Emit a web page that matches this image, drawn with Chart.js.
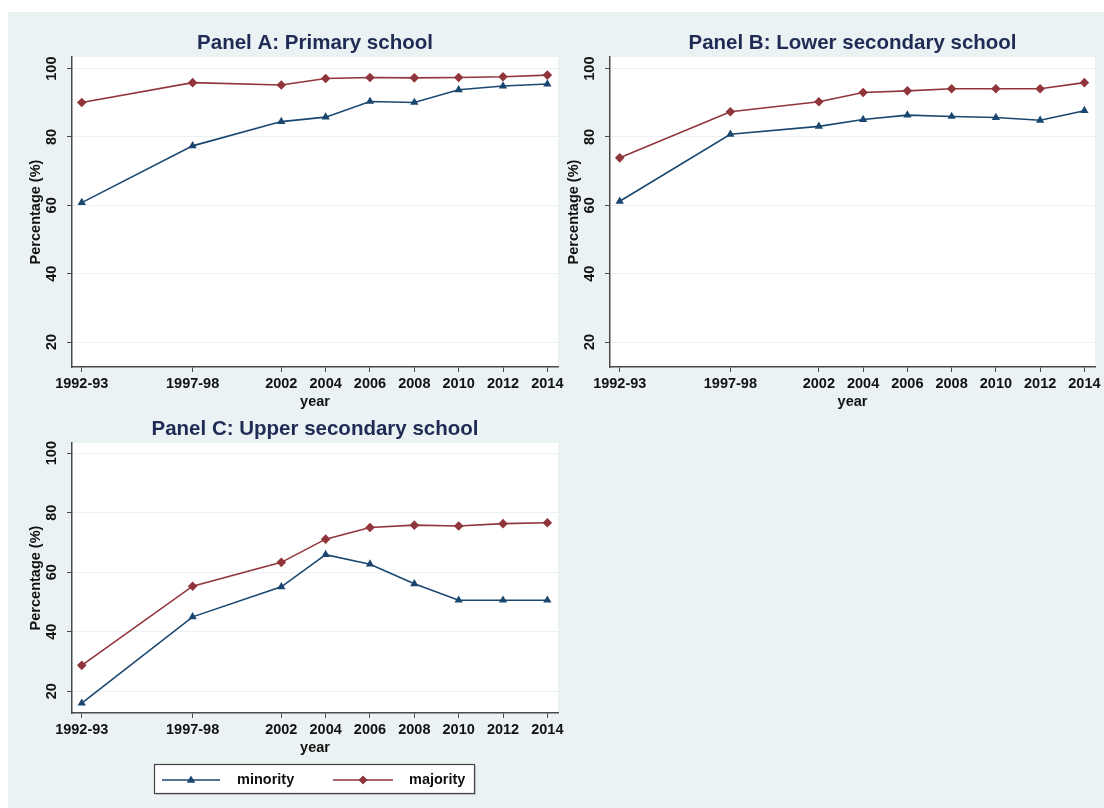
<!DOCTYPE html>
<html>
<head>
<meta charset="utf-8">
<script src="https://cdn.jsdelivr.net/npm/chart.js@4.4.1/dist/chart.umd.min.js"></script>
<style>
  body { margin: 0; background: #fff; width: 1104px; height: 808px; position: relative; overflow: hidden; }
  #bg { position: absolute; left: 8px; top: 12px; width: 1096px; height: 796px; background: #eaf2f3; }
  canvas { position: absolute; }
</style>
</head>
<body>
<div id="bg"></div>
<canvas id="panelA" width="562" height="398" style="left:8px;top:12px"></canvas>
<canvas id="panelB" width="558" height="398" style="left:546px;top:12px"></canvas>
<canvas id="panelC" width="562" height="410" style="left:8px;top:398px"></canvas>
<script>
// survey years (1992-93 and 1997-98 sit at 1993 / 1998 on the axis)
const years = [1993, 1998, 2002, 2004, 2006, 2008, 2010, 2012, 2014];
const yearLabels = ["1992-93", "1997-98", "2002", "2004", "2006", "2008", "2010", "2012", "2014"];
const yTicks = [20, 40, 60, 80, 100];

const primaryMinority = [60.8, 77.4, 84.5, 85.8, 90.4, 90.1, 93.8, 94.9, 95.5];
const primaryMajority = [90.1, 95.9, 95.2, 97.1, 97.4, 97.3, 97.4, 97.6, 98.1];
const lowerMinority = [61.2, 80.8, 83.1, 85.1, 86.4, 86.0, 85.7, 84.9, 87.7];
const lowerMajority = [73.9, 87.4, 90.3, 93.0, 93.5, 94.1, 94.1, 94.1, 95.9];
const upperMinority = [16.0, 45.0, 55.1, 65.9, 62.7, 56.1, 50.6, 50.6, 50.6];
const upperMajority = [28.7, 55.3, 63.3, 71.1, 75.0, 75.8, 75.5, 76.3, 76.6];

const BLUE = "#1a476f";
const RED = "#90353b";
const FONT = '"Liberation Sans", Arial, sans-serif';
const AXIS = "#4a4a4a";

function marker(ctx, style, x, y, r, color) {
  ctx.save();
  ctx.fillStyle = color;
  ctx.beginPath();
  if (style === "triangle") {
    ctx.moveTo(x, y - r);
    ctx.lineTo(x + r * 0.95, y + r * 0.6);
    ctx.lineTo(x - r * 0.95, y + r * 0.6);
  } else {
    ctx.moveTo(x, y - r);
    ctx.lineTo(x + r, y);
    ctx.lineTo(x, y + r);
    ctx.lineTo(x - r, y);
  }
  ctx.closePath();
  ctx.fill();
  ctx.restore();
}

// white plot region, panel title, rotated y labels, axis titles, legend
const panelText = {
  id: "panelText",
  beforeDraw(chart) {
    const a = chart.chartArea;
    const ctx = chart.ctx;
    ctx.save();
    ctx.fillStyle = "#fff";
    ctx.fillRect(a.left, a.top, a.right - a.left, a.bottom - a.top);
    ctx.restore();
  },
  afterDraw(chart, args, opts) {
    const a = chart.chartArea;
    const ctx = chart.ctx;
    const cx = (a.left + a.right) / 2;
    const yScale = chart.scales.y;
    ctx.save();
    ctx.fillStyle = "#1f2b55";
    ctx.font = "bold 20.5px " + FONT;
    ctx.textAlign = "center";
    ctx.textBaseline = "alphabetic";
    ctx.fillText(opts.title, cx, a.top - 8);

    ctx.fillStyle = "#111";
    ctx.font = "bold 14.5px " + FONT;
    ctx.textBaseline = "middle";
    yScale.ticks.forEach(t => {
      const py = yScale.getPixelForValue(t.value);
      ctx.save();
      ctx.translate(a.left - 20, py);
      ctx.rotate(-Math.PI / 2);
      ctx.fillText(String(t.value), 0, 0);
      ctx.restore();
    });
    ctx.save();
    ctx.translate(a.left - 36, (a.top + a.bottom) / 2);
    ctx.rotate(-Math.PI / 2);
    ctx.fillText("Percentage (%)", 0, 0);
    ctx.restore();
    ctx.fillText("year", cx, a.bottom + 35);

    if (opts.legend) {
      const w = 320, h = 29;
      const left = cx - w / 2 - 1, top = a.bottom + 51;
      ctx.fillStyle = "rgba(0,0,0,0.15)";
      ctx.fillRect(left + 2, top + 2, w, h);
      ctx.fillStyle = "#fff";
      ctx.fillRect(left, top, w, h);
      ctx.strokeStyle = "#444";
      ctx.lineWidth = 1.2;
      ctx.strokeRect(left + 0.5, top + 0.5, w, h);
      const my = top + 16;
      const items = [[8, 66, 37, 83], [179, 239, 209, 255]];
      chart.data.datasets.forEach((ds, i) => {
        const it = items[i];
        ctx.strokeStyle = ds.borderColor;
        ctx.lineWidth = 1.5;
        ctx.beginPath();
        ctx.moveTo(left + it[0], my);
        ctx.lineTo(left + it[1], my);
        ctx.stroke();
        marker(ctx, ds.pointStyle, left + it[2], my, 4.5, ds.borderColor);
        ctx.fillStyle = "#111";
        ctx.textAlign = "left";
        ctx.fillText(ds.label, left + it[3], my);
      });
    }
    ctx.restore();
  }
};

function makePanel(id, title, minority, majority, bottomPad, rightPad, legend) {
  new Chart(document.getElementById(id), {
    type: "line",
    data: {
      datasets: [
        {
          label: "minority",
          data: years.map((x, i) => ({ x: x, y: minority[i] })),
          borderColor: BLUE,
          backgroundColor: BLUE,
          borderWidth: 1.6,
          pointStyle: "triangle",
          pointRadius: 4.8,
          pointBorderWidth: 0,
          tension: 0,
        },
        {
          label: "majority",
          data: years.map((x, i) => ({ x: x, y: majority[i] })),
          borderColor: RED,
          backgroundColor: RED,
          borderWidth: 1.6,
          pointStyle: "rectRot",
          pointRadius: 4.8,
          pointBorderWidth: 0,
          tension: 0,
        },
      ],
    },
    options: {
      responsive: false,
      animation: false,
      layout: { padding: { left: 0, top: 45, right: rightPad, bottom: bottomPad } },
      plugins: {
        legend: { display: false },
        tooltip: { enabled: false },
        panelText: { title: title, legend: legend },
      },
      scales: {
        x: {
          type: "linear",
          min: 1992.56,
          max: 2014.48,
          afterBuildTicks: (s) => { s.ticks = years.map(v => ({ value: v })); },
          afterFit: (s) => { s.height = 40; s.paddingLeft = 0; s.paddingRight = 0; },
          ticks: {
            autoSkip: false,
            maxRotation: 0,
            minRotation: 0,
            padding: 3,
            color: "#111",
            font: { family: FONT, size: 14.5, weight: "bold" },
            callback: (v, i) => yearLabels[i],
          },
          grid: { drawOnChartArea: false, drawTicks: true, tickLength: 5, tickColor: AXIS },
          border: { color: AXIS, width: 1.5 },
        },
        y: {
          min: 12.7,
          max: 103.4,
          afterBuildTicks: (s) => { s.ticks = yTicks.map(v => ({ value: v })); },
          afterFit: (s) => { s.width = 64; s.paddingTop = 0; s.paddingBottom = 0; },
          ticks: { display: false },
          grid: { color: "#eaf2f3", lineWidth: 1, drawTicks: true, tickLength: 5, tickColor: AXIS },
          border: { color: AXIS, width: 1.5 },
        },
      },
    },
    plugins: [panelText],
  });
}

makePanel("panelA", "Panel A: Primary school", primaryMinority, primaryMajority, 3, 12, false);
makePanel("panelB", "Panel B: Lower secondary school", lowerMinority, lowerMajority, 3, 9, false);
makePanel("panelC", "Panel C: Upper secondary school", upperMinority, upperMajority, 55, 12, true);
</script>
</body>
</html>
